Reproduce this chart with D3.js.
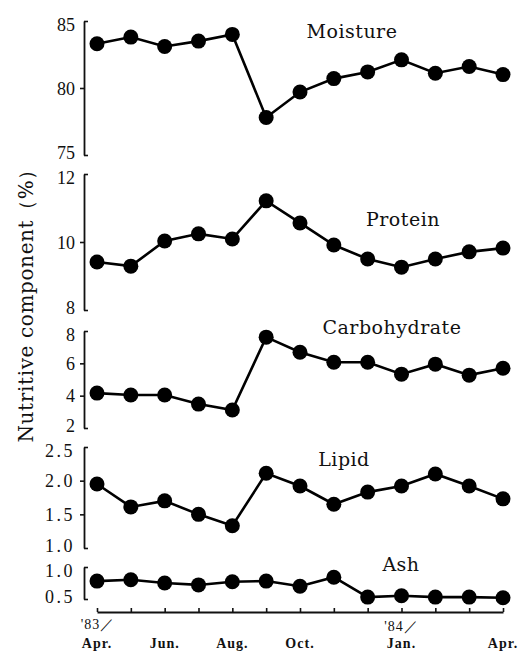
<!DOCTYPE html>
<html>
<head>
<meta charset="utf-8">
<script src="https://cdn.jsdelivr.net/npm/d3@7"></script>
<style>
  body { margin: 0; background: #fff; }
  svg { display: block; }
  .title { font-family: "DejaVu Serif", serif; font-size: 19px; fill: #111; }
  .month { font-family: "Liberation Serif", serif; font-size: 14px; font-weight: bold; fill: #111; letter-spacing: 1px; }
</style>
</head>
<body>
<div id="root"></div>
<script>
// months Apr '83 .. Apr '84
const months = ["Apr.", "May", "Jun.", "Jul.", "Aug.", "Sep.", "Oct.", "Nov.", "Dec.", "Jan.", "Feb.", "Mar.", "Apr."];
const monthLabels = ["Apr.", "", "Jun.", "", "Aug.", "", "Oct.", "", "", "Jan.", "", "", "Apr."];

const moisture = [83.3, 83.8, 83.1, 83.5, 84.0, 77.8, 79.7, 80.7, 81.2, 82.1, 81.1, 81.6, 81.0];
const protein = [9.41, 9.29, 10.03, 10.24, 10.09, 11.21, 10.56, 9.91, 9.5, 9.26, 9.5, 9.71, 9.82];
const carbohydrate = [4.16, 4.04, 4.04, 3.48, 3.11, 7.62, 6.69, 6.07, 6.07, 5.33, 5.95, 5.27, 5.70];
const lipid = [1.95, 1.61, 1.70, 1.50, 1.33, 2.11, 1.92, 1.65, 1.83, 1.92, 2.10, 1.92, 1.73];
const ash = [0.78, 0.80, 0.75, 0.72, 0.77, 0.78, 0.70, 0.84, 0.53, 0.55, 0.53, 0.53, 0.52];

const moistureTicks = [75, 80, 85];
const proteinTicks = [8, 10, 12];
const carbohydrateTicks = [2, 4, 6, 8];
const lipidTicks = [1.0, 1.5, 2.0, 2.5];
const ashTicks = [0.5, 1.0];

const width = 519;
const height = 651;
const axisX = 84;

// panel layout: [bottom px, top px], title position
const panels = [
	{name: "Moisture", values: moisture, ticks: moistureTicks, dec: 0, range: [155, 21], tx: 352, ty: 38},
	{name: "Protein", values: protein, ticks: proteinTicks, dec: 0, range: [310, 174], tx: 403, ty: 226},
	{name: "Carbohydrate", values: carbohydrate, ticks: carbohydrateTicks, dec: 0, range: [428, 331], tx: 392, ty: 334},
	{name: "Lipid", values: lipid, ticks: lipidTicks, dec: 1, range: [548, 447], tx: 344, ty: 466},
	{name: "Ash", values: ash, ticks: ashTicks, dec: 1, range: [599, 567], tx: 401, ty: 571}
];

let svg = d3.select("#root")
	.append("svg")
	.attr("width", width)
	.attr("height", height);

const x = d3.scalePoint()
	.domain(d3.range(months.length))
	.range([97, 503]);

panels.forEach(p => {
	const lo = d3.min(p.ticks), hi = d3.max(p.ticks);
	const y = d3.scaleLinear().domain([lo, hi]).range(p.range);

	const axis = svg.append("g")
		.attr("transform", "translate(" + axisX + ",0)")
		.call(d3.axisLeft(y)
			.tickValues(p.ticks)
			.tickSize(4)
			.tickSizeOuter(0)
			.tickPadding(5)
			.tickFormat(d3.format("." + p.dec + "f")));

	axis.attr("font-family", null).attr("font-size", null);
	axis.select(".domain").attr("stroke", "#111").attr("stroke-width", 1.8);
	// end ticks point inwards like a bracket
	axis.selectAll(".tick line")
		.attr("stroke", "#111")
		.attr("stroke-width", 1.6)
		.attr("x2", d => (d === lo || d === hi) ? 4 : -4);
	axis.selectAll(".tick text")
		.style("font-family", "'Liberation Serif', 'Times New Roman', serif")
		.style("font-size", "18px")
		.style("fill", "#111")
		.style("letter-spacing", p.dec ? "2.5px" : "0px")
		// nudge end labels into the panel, as in the print
		.attr("dy", d => d === hi ? "0.55em" : d === lo ? "0.2em" : "0.35em");

	const line = d3.line()
		.x((d, i) => x(i))
		.y(d => y(d));

	svg.append("path")
		.datum(p.values)
		.attr("fill", "none")
		.attr("stroke", "#000")
		.attr("stroke-width", 2.6)
		.attr("d", line);

	svg.selectAll(null)
		.data(p.values)
		.enter()
		.append("circle")
		.attr("cx", (d, i) => x(i))
		.attr("cy", d => y(d))
		.attr("r", 7.5)
		.attr("fill", "#000");

	svg.append("text")
		.attr("class", "title")
		.attr("x", p.tx)
		.attr("y", p.ty)
		.attr("text-anchor", "middle")
		.style("letter-spacing", "0.5px")
		.text(p.name);
});

// x axis along the bottom, ticks upward
const xAxis = svg.append("g")
	.attr("transform", "translate(0,612)")
	.call(d3.axisTop(x).tickSize(4).tickSizeOuter(0).tickFormat(""));
xAxis.select(".domain").attr("stroke", "#111").attr("stroke-width", 2);
xAxis.selectAll(".tick line").attr("stroke", "#111").attr("stroke-width", 1.6);

svg.selectAll(".month")
	.data(monthLabels)
	.enter()
	.append("text")
	.attr("class", "month")
	.attr("x", (d, i) => x(i))
	.attr("y", 648)
	.attr("text-anchor", "middle")
	.text(d => d);

svg.append("text")
	.attr("class", "month")
	.attr("x", x(0) + 1)
	.attr("y", 629)
	.attr("text-anchor", "middle")
	.style("font-weight", "normal")
	.text("'83／");

svg.append("text")
	.attr("class", "month")
	.attr("x", x(9))
	.attr("y", 631)
	.attr("text-anchor", "middle")
	.style("font-weight", "normal")
	.text("'84／");

// y axis title
svg.append("text")
	.attr("transform", "translate(33,301) rotate(-90)")
	.attr("text-anchor", "middle")
	.attr("textLength", 283)
	.attr("lengthAdjust", "spacing")
	.style("font-family", "'DejaVu Serif', serif")
	.style("font-size", "20px")
	.style("fill", "#111")
	.text("Nutritive component（%）");
</script>
</body>
</html>
